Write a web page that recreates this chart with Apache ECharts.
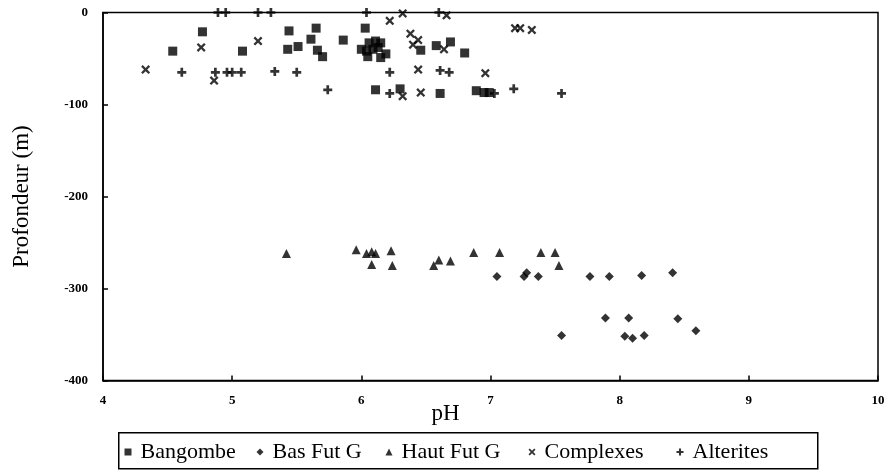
<!DOCTYPE html>
<html><head><meta charset="utf-8">
<script src="https://cdn.jsdelivr.net/npm/echarts@6/dist/echarts.min.js"></script>
<style>html,body{margin:0;padding:0;background:#fff}#c{width:891px;height:474px}</style>
</head><body><div id="c"></div>
<script>
var seriesNames = ['Bangombe','Bas Fut G','Haut Fut G','Complexes','Alterites'];
var xTicks = [4,5,6,7,8,9,10];
var yTicks = [0,-100,-200,-300,-400];
var bangombe = [[4.54,-42],[4.77,-21],[5.08,-42],[5.44,-20],[5.43,-40],[5.51,-37],[5.65,-17],[5.61,-29],[5.66,-41],[5.70,-48],[5.86,-30],[6.03,-17],
 [6.06,-33],[6.11,-31],[6.15,-33],[6.04,-42],[6.09,-40],[6.13,-38],[6.05,-48],[6.15,-49],[6.19,-45],[6.00,-40],
 [6.46,-41],[6.58,-36],[6.69,-32],[6.80,-44],[6.11,-84],[6.30,-83],[6.61,-88],[6.89,-85],[6.95,-87],[6.99,-87]];
var basFutG = [[7.05,-287],[7.26,-287],[7.28,-283],[7.37,-287],[7.77,-287],[7.92,-287],[8.17,-286],[8.41,-283],[7.89,-332],[8.07,-332],[8.45,-333],[7.55,-351],[8.04,-352],[8.10,-354],[8.19,-351],[8.59,-346]];
var hautFutG = [[5.42,-262],[5.96,-258],[6.04,-262],[6.08,-260],[6.11,-262],[6.08,-274],[6.23,-259],[6.24,-275],[6.56,-275],[6.60,-269],[6.69,-270],[6.87,-261],[7.07,-261],[7.39,-261],[7.50,-261],[7.53,-275]];
var complexes = [[4.33,-62],[4.76,-38],[4.86,-74],[5.20,-31],[6.22,-9],[6.32,-1],[6.38,-23],[6.44,-30],[6.40,-35],[6.44,-62],[6.32,-91],[6.46,-87],[6.64,-40],[6.66,-3],[6.96,-66],[7.19,-17],[7.23,-17],[7.32,-19]];
var alterites = [[4.89,0],[4.95,0],[5.20,0],[5.30,0],[6.04,0],[6.60,0],[4.61,-65],[4.87,-65],[4.96,-65],[5.00,-65],[5.07,-65],[5.33,-64],[5.50,-65],[5.74,-84],[6.22,-65],[6.22,-88],[6.61,-63],[6.68,-65],[7.03,-88],[7.18,-83],[7.55,-88]];

var plusPath = 'path://M3.5,0h3v3.5h3.5v3h-3.5v3.5h-3v-3.5h-3.5v-3h3.5z';
var crossPath = 'path://M1.8,0L5,3.2L8.2,0L10,1.8L6.8,5L10,8.2L8.2,10L5,6.8L1.8,10L0,8.2L3.2,5L0,1.8Z';
var symbols = ['rect','diamond','triangle',crossPath,plusPath];
var legendX = [128,260,389,532,680];
var serif = 'Liberation Serif';
var chart = echarts.init(document.getElementById('c'), null, {renderer:'canvas'});
function mk(i, data, size){
  return {name:seriesNames[i], type:'scatter', data:data, symbol:symbols[i], symbolSize:size,
    itemStyle:{color:'#000'}, emphasis:{disabled:true}, z:3};
}
var legends = seriesNames.map(function(n,i){
  return {data:[{name:n, icon:symbols[i]}], left:legendX[i]-3.5, top:441, itemWidth:7, itemHeight:7, padding:0,
    textStyle:{fontFamily:serif, fontSize:22, color:'#000', padding:[0,0,0,4]},
    itemStyle:{color:'#000'}, selectedMode:false, z:5};
});
chart.setOption({
  animation:false,
  backgroundColor:'#fff',
  graphic:[{type:'rect', left:118, top:432, shape:{width:699, height:36}, style:{fill:'#fff', stroke:'#000', lineWidth:1.5}, z:1}],
  grid:{left:103, right:13, top:12.5, bottom:93.5, show:true, borderColor:'#000', borderWidth:1.5, backgroundColor:'transparent'},
  xAxis:{type:'value', min:4, max:10, interval:1, name:'pH', nameLocation:'middle', nameGap:22, nameMoveOverlap:false,
    nameTextStyle:{fontFamily:serif, fontSize:23, color:'#000', padding:[0,90,0,0]},
    axisLine:{show:true, onZero:false, lineStyle:{color:'#000', width:1.5}},
    axisTick:{show:true, inside:true, length:5, lineStyle:{color:'#000', width:1.5}},
    axisLabel:{fontFamily:serif, fontWeight:'bold', fontSize:13, color:'#000', margin:14,
      formatter:function(v){return xTicks.indexOf(v)>=0 ? String(v) : '';}},
    splitLine:{show:false}},
  yAxis:{type:'value', min:-400, max:0, interval:100, name:'Profondeur (m)', nameLocation:'middle', nameGap:70, nameRotate:90, nameMoveOverlap:false,
    nameTextStyle:{fontFamily:serif, fontSize:23, color:'#000'},
    axisLine:{show:true, onZero:false, lineStyle:{color:'#000', width:1.5}},
    axisTick:{show:true, inside:true, length:5, lineStyle:{color:'#000', width:1.5}},
    axisLabel:{fontFamily:serif, fontWeight:'bold', fontSize:13, color:'#000', margin:15,
      formatter:function(v){return yTicks.indexOf(v)>=0 ? String(v) : '';}},
    splitLine:{show:false}},
  legend:legends,
  series:[
    mk(0, bangombe, 9),
    mk(1, basFutG, 9),
    mk(2, hautFutG, 9),
    mk(3, complexes, 9),
    mk(4, alterites, 9)
  ]
});
</script></body></html>
